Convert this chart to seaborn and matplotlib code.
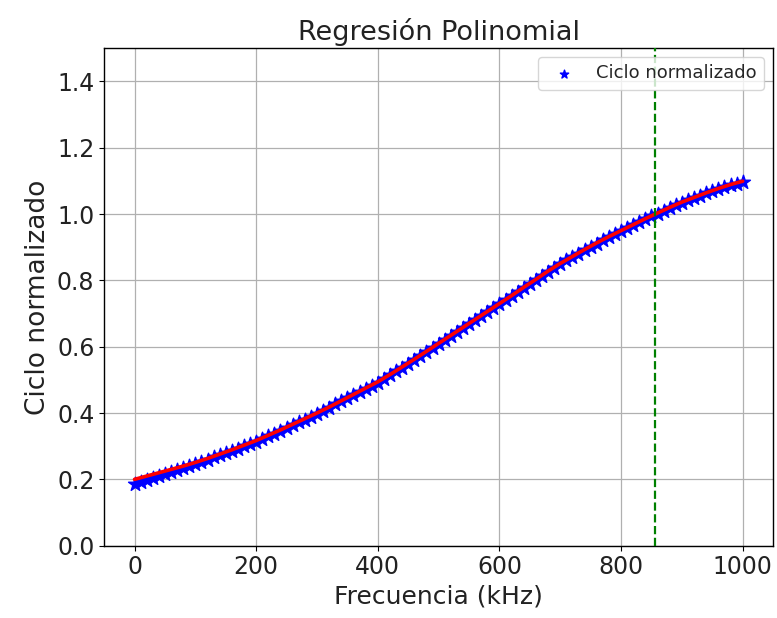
import matplotlib
matplotlib.use('Agg')
import matplotlib.pyplot as plt
import seaborn as sns

frecuencia_medida = [
    0, 10, 20, 30, 40, 50, 60, 70, 80, 90,
    100, 110, 120, 130, 140, 150, 160, 170, 180, 190,
    200, 210, 220, 230, 240, 250, 260, 270, 280, 290,
    300, 310, 320, 330, 340, 350, 360, 370, 380, 390,
    400, 410, 420, 430, 440, 450, 460, 470, 480, 490,
    500, 510, 520, 530, 540, 550, 560, 570, 580, 590,
    600, 610, 620, 630, 640, 650, 660, 670, 680, 690,
    700, 710, 720, 730, 740, 750, 760, 770, 780, 790,
    800, 810, 820, 830, 840, 850, 860, 870, 880, 890,
    900, 910, 920, 930, 940, 950, 960, 970, 980, 990,
    1000]

ciclo_medido = [
    0.186, 0.191, 0.197, 0.203, 0.209, 0.215, 0.221, 0.227, 0.233, 0.240,
    0.246, 0.253, 0.259, 0.266, 0.273, 0.280, 0.286, 0.293, 0.300, 0.307,
    0.314, 0.322, 0.330, 0.338, 0.346, 0.355, 0.363, 0.372, 0.380, 0.389,
    0.397, 0.407, 0.416, 0.426, 0.435, 0.445, 0.454, 0.464, 0.473, 0.483,
    0.492, 0.503, 0.514, 0.526, 0.537, 0.549, 0.560, 0.572, 0.584, 0.595,
    0.607, 0.620, 0.632, 0.644, 0.656, 0.668, 0.680, 0.692, 0.704, 0.716,
    0.728, 0.740, 0.752, 0.765, 0.777, 0.789, 0.801, 0.814, 0.826, 0.838,
    0.849, 0.860, 0.870, 0.881, 0.891, 0.901, 0.911, 0.921, 0.930, 0.939,
    0.948, 0.957, 0.966, 0.975, 0.984, 0.993, 1.001, 1.010, 1.018, 1.026,
    1.034, 1.041, 1.048, 1.055, 1.062, 1.069, 1.075, 1.081, 1.087, 1.092,
    1.097]

# Curva de ajuste polinomial
frecuencia_ajuste = [0, 20, 40, 60, 80, 100, 120, 140, 160, 180, 200, 220, 240, 260, 280,
                     300, 320, 340, 360, 380, 400, 420, 440, 460, 480, 500, 520, 540, 560,
                     580, 600, 620, 640, 660, 680, 700, 720, 740, 760, 780, 800, 820, 840,
                     860, 880, 900, 920, 940, 960, 980, 1000]

ciclo_ajuste = [0.200, 0.210, 0.220, 0.230, 0.240, 0.251, 0.263, 0.276, 0.289, 0.303,
                0.317, 0.333, 0.349, 0.366, 0.383, 0.400, 0.418, 0.437, 0.456, 0.475,
                0.494, 0.516, 0.539, 0.562, 0.586, 0.610, 0.634, 0.658, 0.682, 0.706,
                0.730, 0.754, 0.779, 0.803, 0.828, 0.851, 0.872, 0.893, 0.913, 0.932,
                0.950, 0.968, 0.986, 1.003, 1.020, 1.036, 1.050, 1.064, 1.077, 1.089, 1.099]

frecuencia_limite = 855

sns.set_style('ticks')

fig, ax = plt.subplots(figsize=(7.77, 6.18), dpi=100)

sns.scatterplot(x=frecuencia_medida, y=ciclo_medido, marker='*', color='blue', s=110,
                edgecolor='blue', linewidth=1.0, label='Ciclo normalizado', ax=ax, zorder=2)
sns.lineplot(x=frecuencia_ajuste, y=ciclo_ajuste, color='red', linewidth=2.6, ax=ax, zorder=3)
ax.axvline(frecuencia_limite, color='green', linestyle='--', linewidth=1.6, zorder=4)

ax.set_ylim(0, 1.5)
ax.set_xlim(-50, 1050)
ax.set_yticks([0.0, 0.2, 0.4, 0.6, 0.8, 1.0, 1.2, 1.4])
ax.grid(True, color='#b0b0b0', linewidth=0.9)
for s in ax.spines.values():
    s.set_color('black')
    s.set_linewidth(1.0)

ax.set_title('Regresión Polinomial', fontsize=19.5, color='#222222')
ax.set_xlabel('Frecuencia (kHz)', fontsize=18, color='#222222')
ax.set_ylabel('Ciclo normalizado', fontsize=19, color='#222222')
ax.tick_params(labelsize=17, colors='black', labelcolor='#222222')

ax.legend(loc='upper right', fontsize=13, markerscale=0.6)

fig.subplots_adjust(left=0.134, right=0.995, top=0.922, bottom=0.117)
fig.savefig('out.png', dpi=100)
